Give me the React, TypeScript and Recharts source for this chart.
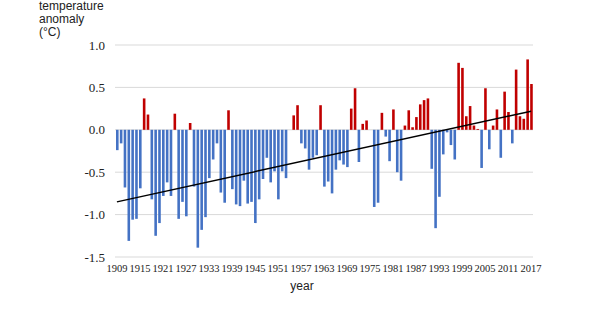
import { Bar, CartesianGrid, Cell, ComposedChart, Line, XAxis, YAxis } from "recharts";

const firstYear = 1909;

// annual temperature anomaly (°C), 1909–2017
const anomalies = [
  -0.24, -0.16, -0.68, -1.31, -1.06, -1.05, -0.69, 0.37, 0.18,
  -0.82, -1.25, -1.1, -0.78, -0.62, -0.78, 0.19, -1.05, -0.85, -1.02,
  0.08, -0.67, -1.39, -1.18, -1.03, -0.57, -0.35, -0.16, -0.74, -0.86,
  0.23, -0.7, -0.88, -0.9, -0.6, -0.87, -0.85, -1.1, -0.82, -0.58,
  -0.33, -0.62, -0.49, -0.82, -0.49, -0.57, 0, 0.17, 0.29, -0.16,
  -0.22, -0.47, -0.33, -0.3, 0.29, -0.67, -0.61, -0.75, -0.47, -0.36,
  -0.41, -0.44, 0.25, 0.49, -0.38, 0.07, 0.11, 0, -0.91, -0.86,
  0.2, -0.08, -0.37, 0.24, -0.5, -0.6, 0.05, 0.23, 0.03, 0.15,
  0.3, 0.35, 0.37, -0.46, -1.16, -0.79, -0.29, -0.03, -0.18, -0.35,
  0.79, 0.73, 0.16, 0.28, 0.05, 0.01, -0.45, 0.49, -0.23, 0.05,
  0.24, -0.33, 0.45, 0.21, -0.16, 0.71, 0.16, 0.13, 0.83, 0.54,
];

// linear trend end points
const trendStart = -0.85;
const trendEnd = 0.22;

const yTicks = [-1.5, -1.0, -0.5, 0, 0.5, 1.0];

const data = anomalies.map((value, i) => ({
  year: String(firstYear + i),
  value,
  trend: i === 0 ? trendStart : i === anomalies.length - 1 ? trendEnd : null,
}));

const BLUE = "#4472C4";
const RED = "#C00000";
const serif = "'Liberation Serif', 'Times New Roman', serif";
const sans = "'Liberation Sans', Arial, sans-serif";

function YTitle() {
  return (
    <text x={39} y={10} fontFamily={sans} fontSize={12} fill="#222">
      <tspan x={39} dy={0}>temperature</tspan>
      <tspan x={39} dy={13}>anomaly</tspan>
      <tspan x={39} dy={13}>(°C)</tspan>
    </text>
  );
}

function XTitle() {
  return (
    <text x={302} y={290} textAnchor="middle" fontFamily={sans} fontSize={12} fill="#222">
      year
    </text>
  );
}

function YTick({ x, y, payload }: any) {
  return (
    <text x={x} y={y} dy={4.5} textAnchor="end" fontFamily={serif} fontSize={13} fill="#222">
      {Number(payload.value).toFixed(1)}
    </text>
  );
}

export default function App() {
  return (
    <div style={{ position: "absolute", left: 0, top: 0, width: 600, height: 327, background: "#fff" }}>
      <ComposedChart
        width={600}
        height={327}
        data={data}
        margin={{ top: 45, right: 67, bottom: 40, left: 55 }}
        style={{ fontFamily: serif }}
      >
        <CartesianGrid vertical={false} stroke="#d9d9d9" />
        <XAxis
          dataKey="year"
          interval={5}
          height={30}
          axisLine={false}
          tickLine={false}
          tick={{ fontFamily: serif, fontSize: 10.5, fill: "#222" }}
          label={<XTitle />}
        />
        <YAxis
          width={60}
          domain={[-1.5, 1.0]}
          ticks={yTicks}
          axisLine={false}
          tickLine={false}
          tickMargin={4}
          tick={<YTick />}
          label={<YTitle />}
        />
        <Bar dataKey="value" barSize={2.6} isAnimationActive={false}>
          {data.map((d) => (
            <Cell key={d.year} fill={d.value >= 0 ? RED : BLUE} />
          ))}
        </Bar>
        <Line
          dataKey="trend"
          stroke="#000"
          strokeWidth={1.5}
          dot={false}
          connectNulls
          isAnimationActive={false}
        />
      </ComposedChart>
    </div>
  );
}
